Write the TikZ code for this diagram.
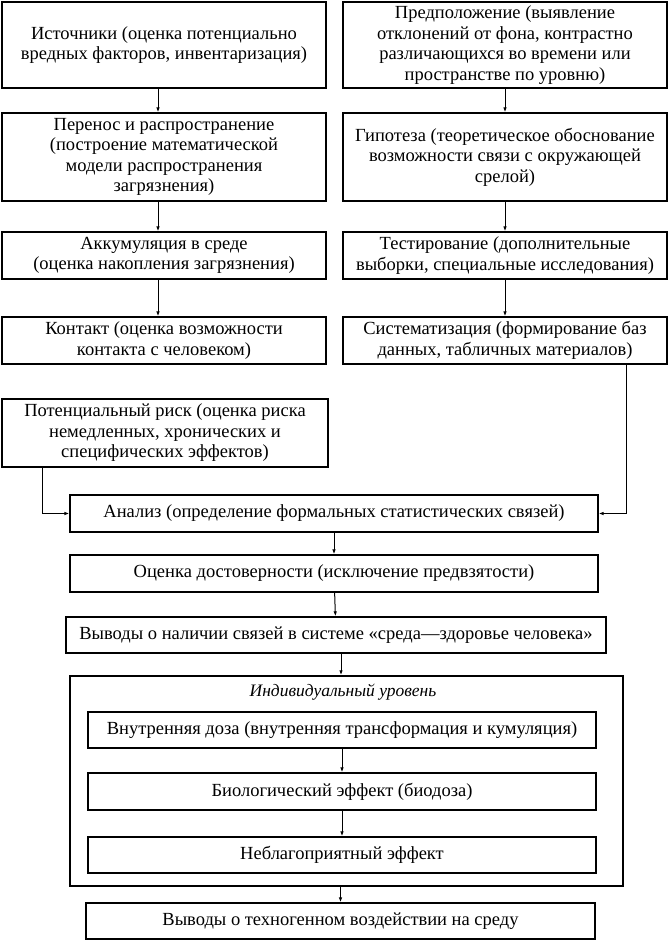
\documentclass[tikz,border=0pt]{standalone}
\usepackage{fontspec}
\setmainfont{Liberation Serif}
\usepackage{tikz}
\usetikzlibrary{calc,arrows.meta}
\tikzset{
	blok/.style={draw, line width=1.2pt, align=center, inner sep=1pt, font=\fontsize{18.5}{20.5}\selectfont},
	svyaz/.style={line width=1pt, -{Latex[length=5pt,width=3.5pt]}}
}

\begin{document}
\begin{tikzpicture}[x=1pt, y=-1pt]
			%%%%% START %%%%%
			
			\useasboundingbox (0, 0) rectangle (669, 941);
			
			\node[blok, minimum width=324pt, minimum height=86pt] (istochniki) at (164, 45) {Источники (оценка потенциально\\вредных факторов, инвентаризация)};
			\node[blok, minimum width=324pt, minimum height=86pt] (predpol) at (505, 45) {Предположение (выявление\\отклонений от фона, контрастно\\различающихся во времени или\\пространстве по уровню)};
			
			\node[blok, minimum width=324pt, minimum height=88pt] (perenos) at (164, 157) {Перенос и распространение\\(построение математической\\модели распространения\\загрязнения)};
			\node[blok, minimum width=324pt, minimum height=88pt] (gipoteza) at (505, 157) {Гипотеза (теоретическое обоснование\\возможности связи с окружающей\\срелой)};
			
			\node[blok, minimum width=324pt, minimum height=47pt] (akkum) at (164, 255.5) {Аккумуляция в среде\\(оценка накопления загрязнения)};
			\node[blok, minimum width=324pt, minimum height=47pt] (test) at (505, 255.5) {Тестирование (дополнительные\\выборки, специальные исследования)};
			
			\node[blok, minimum width=324pt, minimum height=47pt] (kontakt) at (164, 340.5) {Контакт (оценка возможности\\контакта с человеком)};
			\node[blok, minimum width=324pt, minimum height=47pt] (sistem) at (505, 340.5) {Систематизация (формирование баз\\данных, табличных материалов)};
			
			\node[blok, minimum width=326pt, minimum height=68pt] (risk) at (165, 433) {Потенциальный риск (оценка риска\\немедленных, хронических и\\специфических эффектов)};
			
			\node[blok, minimum width=528pt, minimum height=37pt] (analiz) at (334, 513.5) {Анализ (определение формальных статистических связей)};
			\node[blok, minimum width=528pt, minimum height=37pt] (ocenka) at (334, 573.5) {Оценка достоверности (исключение предвзятости)};
			\node[blok, minimum width=540pt, minimum height=36pt] (vyvody) at (336, 635) {Выводы о наличии связей в системе «среда—здоровье человека»};
			
			\node[draw, line width=1.5pt, minimum width=553pt, minimum height=210pt] (uroven) at (346.5, 781) {};
			\node[font=\fontsize{17.5}{19}\selectfont\itshape] (urovenlbl) at (343, 692) {Индивидуальный уровень};
			
			\node[blok, minimum width=508pt, minimum height=36pt] (doza) at (342, 730) {Внутренняя доза (внутренняя трансформация и кумуляция)};
			\node[blok, minimum width=508pt, minimum height=37pt] (bio) at (342, 791.5) {Биологический эффект (биодоза)};
			\node[blok, minimum width=508pt, minimum height=36pt] (neblag) at (342, 855) {Неблагоприятный эффект};
			
			\node[blok, minimum width=509pt, minimum height=36pt] (itog) at (340.5, 921) {Выводы о техногенном воздействии на среду};
			
			\draw[svyaz] ([xshift=-6pt]istochniki.south) -- ([xshift=-6pt]perenos.north);
			\draw[svyaz] ([xshift=-6pt]perenos.south) -- ([xshift=-6pt]akkum.north);
			\draw[svyaz] ([xshift=-6pt]akkum.south) -- ([xshift=-6pt]kontakt.north);
			\draw[svyaz] (predpol) -- (gipoteza);
			\draw[svyaz] (gipoteza) -- (test);
			\draw[svyaz] (test) -- (sistem);
			
			\draw[svyaz] ([xshift=41pt]risk.south west) |- (analiz.west);
			\draw[svyaz] ([xshift=-41pt]sistem.south east) |- (analiz.east);
			
			\draw[svyaz] (analiz) -- (ocenka);
			\draw[svyaz] (ocenka) -- (vyvody);
			\draw[svyaz] ([xshift=5pt]vyvody.south) -- ([xshift=5pt]vyvody.south |- uroven.north);
			\draw[svyaz] (doza) -- (bio);
			\draw[svyaz] (bio) -- (neblag);
			\draw[svyaz] (itog.north |- uroven.south) -- (itog.north);
			
			%%%%% END %%%%%
		\end{tikzpicture}
\end{document}
